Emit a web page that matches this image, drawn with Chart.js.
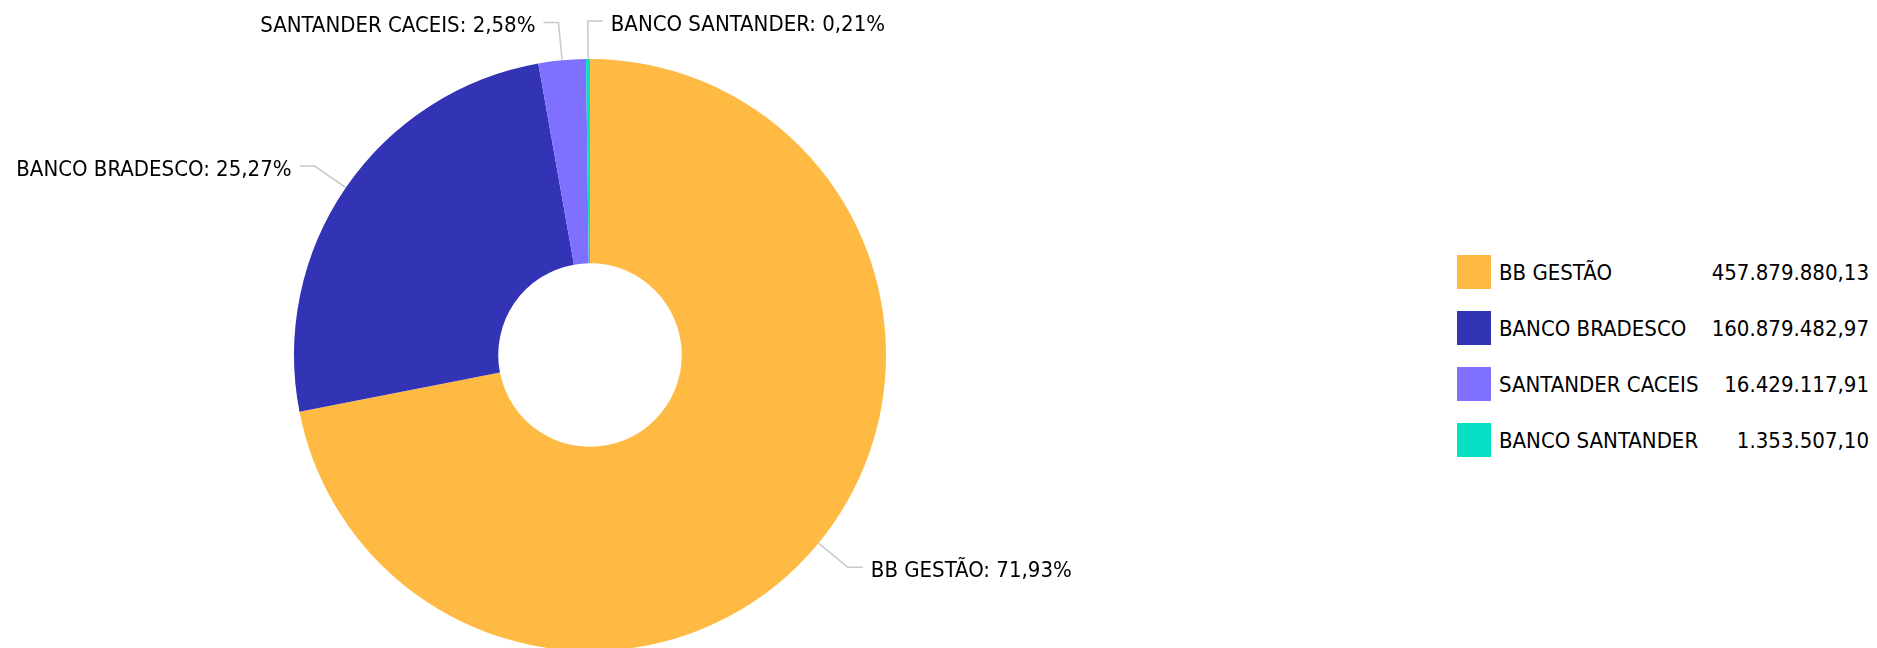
<!DOCTYPE html>
<html>
<head>
<meta charset="utf-8">
<script src="https://cdn.jsdelivr.net/npm/chart.js@4/dist/chart.umd.min.js"></script>
<style>
  html, body { margin: 0; padding: 0; background: #fff; overflow: hidden; }
  body { width: 1877px; height: 648px; position: relative; }
  #wrap { position: absolute; left: 0; top: 0; width: 1180px; height: 710px; }
  #legend { position: absolute; left: 1457px; top: 255px; width: 412px;
    font-family: 'DejaVu Sans Condensed', 'DejaVu Sans', sans-serif; font-stretch: condensed;
    font-size: 22px; color: #000; }
  .row { display: flex; align-items: center; height: 34px; margin-bottom: 22px; }
  .sw { width: 34px; height: 34px; margin-right: 8px; flex: none; }
  .lbl { flex: 1; white-space: nowrap; }
  .val { white-space: nowrap; text-align: right; }
</style>
</head>
<body>
<div id="wrap"><canvas id="chart"></canvas></div>
<div id="legend"></div>
<script>
const labels = ['BB GESTÃO', 'BANCO BRADESCO', 'SANTANDER CACEIS', 'BANCO SANTANDER']
const values = [457879880.13, 160879482.97, 16429117.91, 1353507.10]
const colors = ['#FFBA44', '#3333B5', '#8070FF', '#06E0C4']

const FONT = "'DejaVu Sans Condensed', 'DejaVu Sans', sans-serif"
const total = values.reduce((a, b) => a + b, 0)

function pct(v) {
  return (v / total * 100).toFixed(2).replace('.', ',') + '%'
}

// 457879880.13 -> 457.879.880,13
function money(v) {
  const [int, dec] = v.toFixed(2).split('.')
  return int.replace(/\B(?=(\d{3})+(?!\d))/g, '.') + ',' + dec
}

// labels outside the ring with an elbow leader line
const outLabels = {
  id: 'outLabels',
  afterDatasetsDraw(chart) {
    const ctx = chart.ctx
    const meta = chart.getDatasetMeta(0)
    ctx.save()
    ctx.font = `22px ${FONT}`
    ctx.textBaseline = 'middle'
    meta.data.forEach((arc, i) => {
      const { x, y, startAngle, endAngle, outerRadius } = arc.getProps(['x', 'y', 'startAngle', 'endAngle', 'outerRadius'], true)
      const mid = (startAngle + endAngle) / 2
      const cos = Math.cos(mid), sin = Math.sin(mid)
      const x0 = x + cos * outerRadius, y0 = y + sin * outerRadius
      const x1 = x + cos * (outerRadius + 38), y1 = y + sin * (outerRadius + 38)
      const right = cos >= -0.02
      const x2 = x1 + (right ? 15 : -15)

      ctx.strokeStyle = '#c8c8c8'
      ctx.lineWidth = 1.5
      ctx.beginPath()
      ctx.moveTo(x0, y0)
      ctx.lineTo(x1, y1)
      ctx.lineTo(x2, y1)
      ctx.stroke()

      ctx.fillStyle = '#000'
      ctx.textAlign = right ? 'left' : 'right'
      ctx.fillText(`${chart.data.labels[i]}: ${pct(values[i])}`, x2 + (right ? 8 : -8), y1 + 4)
    })
    ctx.restore()
  }
}

const chart = new Chart(document.getElementById('chart'), {
  type: 'doughnut',
  data: {
    labels,
    datasets: [{
      data: values,
      backgroundColor: colors,
      borderWidth: 0,
      hoverOffset: 0
    }]
  },
  options: {
    responsive: true,
    maintainAspectRatio: false,
    animation: false,
    cutout: '31%',
    layout: { padding: { top: 59, bottom: 59 } },
    plugins: {
      legend: { display: false },
      tooltip: { enabled: false }
    }
  },
  plugins: [outLabels]
})

// legend with values, built from the chart's data
const legendEl = document.getElementById('legend')
legendEl.innerHTML = chart.data.labels.map((l, i) => `
  <div class="row">
    <div class="sw" style="background:${colors[i]}"></div>
    <div class="lbl">${l}</div>
    <div class="val">${money(values[i])}</div>
  </div>`).join('')
</script>
</body>
</html>
